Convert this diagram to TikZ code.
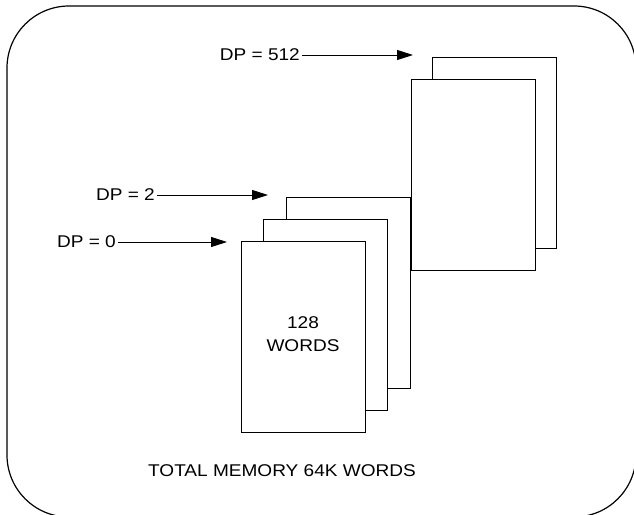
\documentclass[tikz,border=0pt]{standalone}
\usepackage{fontspec}
\setmainfont{Liberation Sans}[FakeStretch=1.12]
\usetikzlibrary{arrows.meta}

\tikzset{
  page/.style={draw, fill=white, line width=1.1pt, minimum width=124pt, minimum height=191pt, anchor=north west, inner sep=0pt},
  lbl/.style={font=\fontsize{17}{23}\selectfont, inner sep=2pt},
  ptr/.style={-{Triangle[length=16pt,width=10pt]}, line width=1pt}
}

\begin{document}
\begin{tikzpicture}[x=1pt, y=-1pt]
    \useasboundingbox (0,0) rectangle (634,514);

    % Outer frame (rounded, slightly cut at right and bottom)
    \draw[line width=1.2pt, rounded corners=62pt] (7,6) rectangle (636,517);

    % Page stack for DP = 512 (back first)
    \node[page] (pg513) at (432,57) {};
    \node[page] (pg512) at (411,79) {};

    % Page stack for DP = 0, 1, 2 (back first)
    \node[page] (pg2) at (286,197) {};
    \node[page] (pg1) at (263,219) {};
    \node[page] (pg0) at (241,241) {};
    \node[lbl, align=center] (words) at (303,334) {128\\WORDS};

    % Data page pointers
    \node[lbl, anchor=east] (dp512) at (302,55) {DP = 512};
    \node[lbl, anchor=east] (dp2) at (157,195) {DP = 2};
    \node[lbl, anchor=east] (dp0) at (118,242) {DP = 0};
    \coordinate (t512) at (413,55);
    \coordinate (t2) at (268,195);
    \coordinate (t0) at (227,242);
    \draw[ptr] (dp512.east) -- (t512);
    \draw[ptr] (dp2.east) -- (t2);
    \draw[ptr] (dp0.east) -- (t0);

    % Caption
    \node[lbl] (total) at (282,471) {TOTAL MEMORY 64K WORDS};
\end{tikzpicture}
\end{document}
